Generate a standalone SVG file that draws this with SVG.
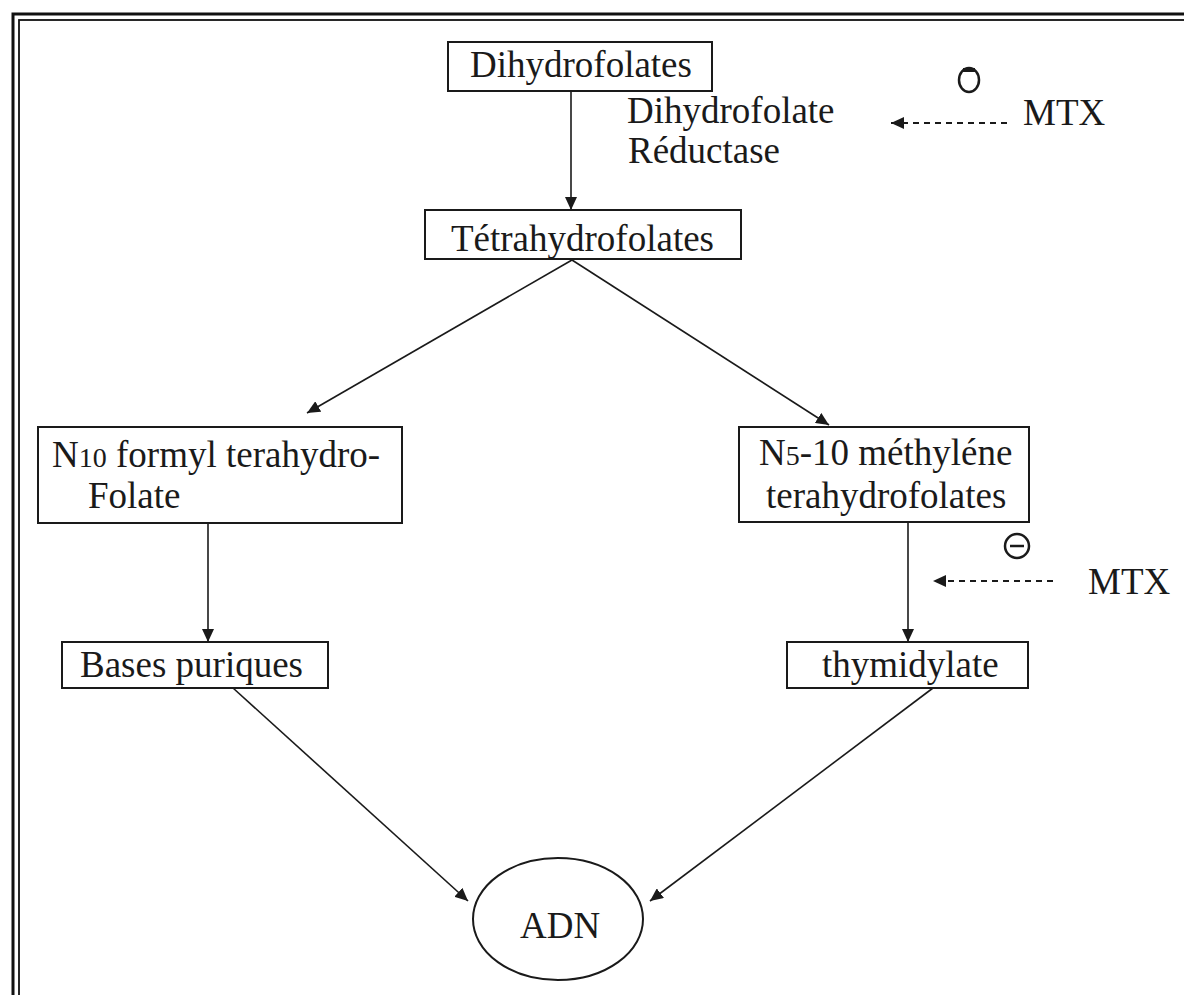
<svg xmlns="http://www.w3.org/2000/svg" width="1184" height="995" viewBox="0 0 1184 995">
<style>
.box{fill:#fff;stroke:#1a1a1a;stroke-width:2}
.t{font-family:"Liberation Serif","Times New Roman",serif;font-size:37px;fill:#1a1a1a}
.c{stroke:#1a1a1a;stroke-width:1.6;fill:none}
.d{stroke:#1a1a1a;stroke-width:2.2;fill:none;stroke-dasharray:6 5}
.sym{fill:none;stroke:#1a1a1a;stroke-width:2.5}
</style>
<defs>
<marker id="ah" markerUnits="userSpaceOnUse" markerWidth="14" markerHeight="12" refX="13" refY="6" orient="auto">
<path d="M0,0 L13,6 L0,12 Z" fill="#1a1a1a"/>
</marker>
</defs>
<rect width="1184" height="995" fill="#fff"/>
<g id="frame">
<rect x="13" y="14" width="1200" height="1000" fill="none" stroke="#111" stroke-width="3"/>
<rect x="19" y="20" width="1200" height="1000" fill="none" stroke="#111" stroke-width="1.8"/>
</g>
<g id="connectors">
<line class="c" x1="571" y1="91" x2="571" y2="210" marker-end="url(#ah)"/>
<line class="c" x1="572" y1="260" x2="307" y2="413" marker-end="url(#ah)"/>
<line class="c" x1="572" y1="260" x2="829" y2="425" marker-end="url(#ah)"/>
<line class="c" x1="208" y1="523" x2="208" y2="642" marker-end="url(#ah)"/>
<line class="c" x1="908" y1="522" x2="908" y2="642" marker-end="url(#ah)"/>
<line class="c" x1="233" y1="688" x2="468" y2="901" marker-end="url(#ah)"/>
<line class="c" x1="933" y1="688" x2="650" y2="901" marker-end="url(#ah)"/>
<line class="d" x1="1007" y1="123" x2="891" y2="123" marker-end="url(#ah)"/>
<line class="d" x1="1053" y1="581" x2="933" y2="581" marker-end="url(#ah)"/>
</g>
<g id="dihydrofolates">
<rect class="box" x="448" y="42" width="264" height="49"/>
<text class="t" x="470" y="77">Dihydrofolates</text>
</g>
<g id="enzyme">
<text class="t" x="627" y="123">Dihydrofolate</text>
<text class="t" x="628" y="163">Réductase</text>
</g>
<g id="mtx-top">
<ellipse class="sym" cx="969" cy="80" rx="10" ry="12"/>
<rect x="963" y="68" width="12" height="4" fill="#1a1a1a"/>
<text class="t" x="1023" y="125">MTX</text>
</g>
<g id="tetrahydrofolates">
<rect class="box" x="425" y="210" width="316" height="49"/>
<text class="t" x="451" y="251">Tétrahydrofolates</text>
</g>
<g id="n10">
<rect class="box" x="38" y="427" width="364" height="96"/>
<text class="t" x="52" y="467">N<tspan font-size="28">10</tspan> formyl terahydro-</text>
<text class="t" x="88" y="508">Folate</text>
</g>
<g id="n5">
<rect class="box" x="739" y="427" width="290" height="95"/>
<text class="t" x="759" y="465">N<tspan font-size="28">5</tspan>-10 méthyléne</text>
<text class="t" x="766" y="508">terahydrofolates</text>
</g>
<g id="mtx-right">
<circle class="sym" cx="1017" cy="546" r="12"/>
<line x1="1010" y1="546" x2="1024" y2="546" stroke="#1a1a1a" stroke-width="2.5"/>
<text class="t" x="1088" y="594">MTX</text>
</g>
<g id="bases">
<rect class="box" x="62" y="642" width="266" height="46"/>
<text class="t" x="80" y="677">Bases puriques</text>
</g>
<g id="thymidylate">
<rect class="box" x="787" y="642" width="241" height="46"/>
<text class="t" x="822" y="677">thymidylate</text>
</g>
<g id="adn">
<ellipse class="box" cx="558" cy="919" rx="85" ry="61"/>
<text class="t" x="520" y="938">ADN</text>
</g>
</svg>
